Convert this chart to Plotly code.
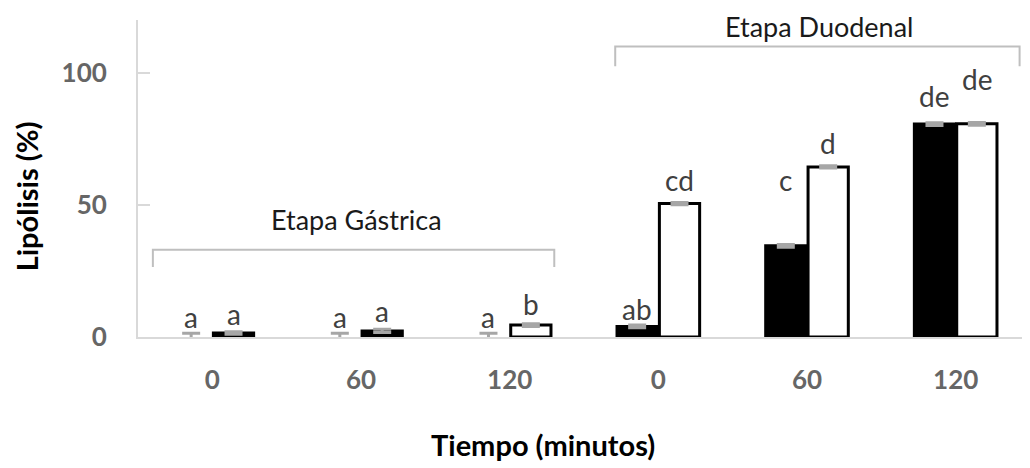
import plotly.graph_objects as go

# ---- data ----
tick_text = ["0", "60", "120", "0", "60", "120"]
stages = ["Etapa Gástrica", "Etapa Duodenal"]

s1_values = [0.0, 0.0, 0.0, 4.0, 34.5, 80.6]
s1_errors = [1.4, 1.4, 1.4, 0.5, 0.5, 0.5]
s1_letters = ["a", "a", "a", "ab", "c", "de"]

s2_values = [1.5, 2.3, 4.5, 50.5, 64.4, 80.7]
s2_errors = [0.5, 0.6, 0.5, 0.4, 0.4, 0.5]
s2_letters = ["a", "a", "b", "cd", "d", "de"]
s2_filled = [True, True, False, False, False, False]

x_pos = list(range(len(tick_text)))

FONT = "Lato"
fig = go.Figure()

fig.add_trace(go.Bar(
    x=x_pos, y=s1_values, offsetgroup="1",
    marker=dict(color="black",
                line=dict(color="black", width=[0 if v == 0 else 3 for v in s1_values])),
    error_y=dict(type="data", array=s1_errors, color="#a6a6a6", thickness=3, width=9),
    showlegend=False,
))
fig.add_trace(go.Bar(
    x=x_pos, y=s2_values, offsetgroup="2",
    marker=dict(color=["black" if f else "white" for f in s2_filled],
                line=dict(color="black", width=3)),
    error_y=dict(type="data", array=s2_errors, color="#a6a6a6", thickness=3, width=9),
    showlegend=False,
))

# letter labels (baseline heights in data units)
s1_label_base = [3.4, 3.4, 3.4, 6.4, 55.3, 87.1]
s2_label_base = [4.5, 5.7, 8.3, 55.3, 69.3, 93.6]
off = 0.1425
annotations = []
for i in x_pos:
    annotations.append(dict(x=i - off, y=s1_label_base[i], xref="x", yref="y",
                            text=s1_letters[i], showarrow=False, yanchor="bottom",
                            yshift=-8, font=dict(family=FONT, size=28, color="#404040")))
    annotations.append(dict(x=i + off, y=s2_label_base[i], xref="x", yref="y",
                            text=s2_letters[i], showarrow=False, yanchor="bottom",
                            yshift=-8, font=dict(family=FONT, size=28, color="#404040")))

# stage brackets
brackets = [(-0.4, 2.3, 33.0, 26.5, 0.97, 44.3), (2.71, 5.43, 110.0, 102.5, 4.08, 117.6)]
shapes = []
for (x0, x1, yl, yt, xt, ytext), name in zip(brackets, stages):
    shapes.append(dict(type="path", xref="x", yref="y",
                       path=f"M {x0},{yt} L {x0},{yl} L {x1},{yl} L {x1},{yt}",
                       line=dict(color="#bfbfbf", width=2)))
    annotations.append(dict(x=xt, y=ytext, xref="x", yref="y", text=name, showarrow=False,
                            yanchor="middle", font=dict(family=FONT, size=27, color="#1a1a1a")))

annotations.append(dict(x=0.454, y=-0.34, xref="paper", yref="paper", text="<b>Tiempo (minutos)</b>",
                        showarrow=False, yanchor="middle", font=dict(family=FONT, size=29, color="black")))
annotations.append(dict(x=-0.124, y=0.445, xref="paper", yref="paper", text="<b>Lipólisis (%)</b>",
                        showarrow=False, textangle=-90, xanchor="center", yanchor="middle",
                        font=dict(family=FONT, size=29, color="black")))

fig.update_layout(
    width=1022, height=460,
    margin=dict(l=130, r=0, t=12, b=131),
    plot_bgcolor="white", paper_bgcolor="white",
    barmode="group", bargap=0.43, bargroupgap=0.05,
    shapes=shapes, annotations=annotations,
    xaxis=dict(range=[-0.5, 5.5], tickmode="array", tickvals=x_pos, ticktext=tick_text,
               showgrid=False, zeroline=False, showline=True, linecolor="#d9d9d9", linewidth=2,
               ticks="", ticklabelstandoff=19,
               tickfont=dict(family=FONT, size=26, color="#666666", weight="bold")),
    yaxis=dict(range=[0, 120], tickmode="array", tickvals=[0, 50, 100],
               showgrid=False, zeroline=False, showline=True, linecolor="#d9d9d9", linewidth=2,
               ticks="inside", ticklen=12, tickcolor="#d9d9d9", tickwidth=2, ticklabelstandoff=24,
               tickfont=dict(family=FONT, size=26, color="#666666", weight="bold")),
)

fig.write_html("out.html")
